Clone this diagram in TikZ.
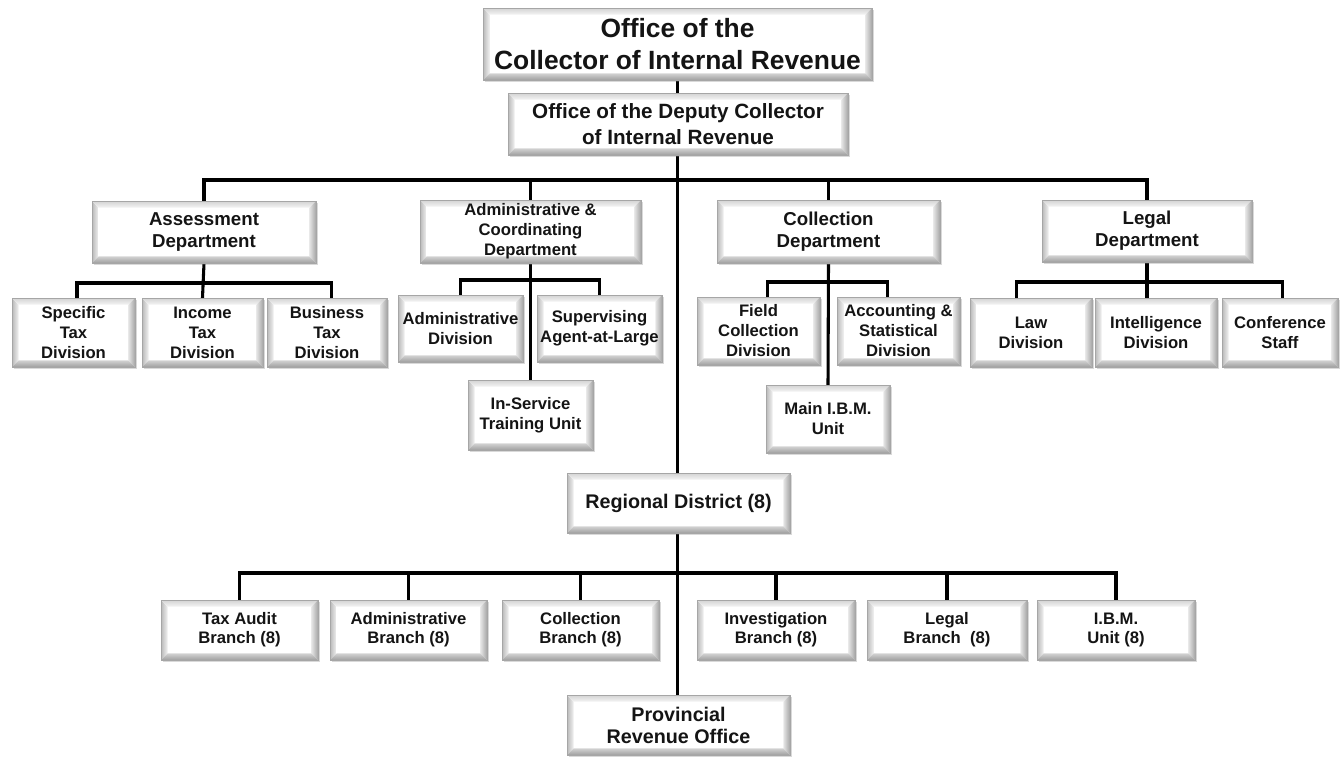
\documentclass[tikz,border=0pt]{standalone}
\usepackage{fontspec}
\setmainfont{Liberation Sans}
\usetikzlibrary{shadows,backgrounds}
\tikzset{
  bx/.style={rectangle, inner sep=1pt, align=center, fill=white, draw=gray!70, line width=0.4pt,
    text=black!92,
    drop shadow={opacity=0.3, shadow xshift=1.6pt, shadow yshift=-1.6pt},
    path picture={
      \path (path picture bounding box.south west) coordinate (q1)
            (path picture bounding box.north west) coordinate (q2)
            (path picture bounding box.north east) coordinate (q3)
            (path picture bounding box.south east) coordinate (q4);
      \shade[left color=gray!55, right color=gray!10] (q1) -- (q2) -- ([shift={(5pt,-5pt)}]q2) -- ([shift={(5pt,5pt)}]q1) -- cycle;
      \shade[top color=gray!35, bottom color=gray!8] (q2) -- (q3) -- ([shift={(-5pt,-5pt)}]q3) -- ([shift={(5pt,-5pt)}]q2) -- cycle;
      \shade[left color=gray!20, right color=gray!70] (q3) -- (q4) -- ([shift={(-5pt,5pt)}]q4) -- ([shift={(-5pt,-5pt)}]q3) -- cycle;
      \shade[top color=gray!35, bottom color=gray!75] (q4) -- (q1) -- ([shift={(5pt,5pt)}]q1) -- ([shift={(-5pt,5pt)}]q4) -- cycle;
    }},
  ttl/.style={bx, font=\fontsize{19.8pt}{24pt}\selectfont\bfseries},
  dpt/.style={bx, font=\fontsize{15.5pt}{19pt}\selectfont\bfseries},
  dept/.style={bx, font=\fontsize{14pt}{16.5pt}\selectfont\bfseries},
  small/.style={bx, font=\fontsize{12.5pt}{15pt}\selectfont\bfseries},
  brn/.style={bx, font=\fontsize{12.5pt}{14pt}\selectfont\bfseries},
  big/.style={bx, font=\fontsize{14.8pt}{16.5pt}\selectfont\bfseries},
  ln/.style={draw=black, line width=2.3pt, line cap=rect},
}
\newcommand\obox[7]{\node[#7, minimum width={(#4-#2)*0.75pt}, minimum height={(#5-#3)*0.75pt}] (#1) at ({(#2+#4)/2},{(#3+#5)/2}) {#6};}
\begin{document}
\begin{tikzpicture}[x=0.75pt,y=-0.75pt]
\useasboundingbox (0,0) rectangle (1340,757);
% boxes
\obox{top}{483}{8}{872}{80}{Office of the\\Collector of Internal Revenue}{ttl}
\obox{dep}{508}{93}{848}{155}{Office of the Deputy Collector\\of Internal Revenue}{dpt}
\obox{ass}{92}{201}{316}{263}{Assessment\\Department}{dept}
\obox{adm}{420}{200}{641}{263}{Administrative \&\\Coordinating\\Department}{small}
\obox{col}{717}{200}{940}{263}{Collection\\Department}{dept}
\obox{leg}{1042}{200}{1252}{262}{Legal\\Department}{dept}
\obox{spe}{12}{298}{135}{367}{Specific\\Tax\\Division}{small}
\obox{inc}{142}{298}{263}{367}{Income\\Tax\\Division}{small}
\obox{bus}{267}{298}{387}{367}{Business\\Tax\\Division}{small}
\obox{adv}{398}{295}{523}{362}{Administrative\\Division}{small}
\obox{sup}{537}{295}{662}{362}{Supervising\\Agent-at-Large}{small}
\obox{ins}{468}{380}{593}{450}{In-Service\\Training Unit}{small}
\obox{fld}{697}{297}{820}{365}{Field\\Collection\\Division}{small}
\obox{acc}{837}{297}{960}{365}{Accounting \&\\Statistical\\Division}{small}
\obox{ibm}{766}{385}{890}{453}{Main I.B.M.\\Unit}{small}
\obox{law}{970}{298}{1092}{367}{Law\\Division}{small}
\obox{int}{1095}{298}{1217}{367}{Intelligence\\Division}{small}
\obox{con}{1222}{298}{1338}{367}{Conference\\Staff}{small}
\obox{reg}{567}{473}{790}{533}{Regional District (8)}{big}
\obox{tab}{161}{600}{318}{660}{Tax Audit\\Branch (8)}{brn}
\obox{adb}{330}{600}{487}{660}{Administrative\\Branch (8)}{brn}
\obox{cob}{502}{600}{659}{660}{Collection\\Branch (8)}{brn}
\obox{inv}{697}{600}{855}{660}{Investigation\\Branch (8)}{brn}
\obox{lgb}{867}{600}{1027}{660}{Legal\\Branch~~(8)}{brn}
\obox{iub}{1037}{600}{1195}{660}{I.B.M.\\Unit (8)}{brn}
\obox{prov}{567}{695}{790}{755}{Provincial\\Revenue Office}{big}
% connectors
\coordinate (dbar) at (678,180);
\coordinate (abar) at (204,283);
\coordinate (cbar) at (530,280);
\coordinate (kbar) at (828,282);
\coordinate (lbar) at (1147,282);
\coordinate (bbar) at (678,573);
\begin{scope}[on background layer]
\draw[ln] (top.south) -- (top.south |- prov.north);
\draw[ln] (ass.north) |- (dbar) -| (leg.north);
\draw[ln] (adm.north) -- (adm.north |- dbar);
\draw[ln] (col.north) -- (col.north |- dbar);
\draw[ln] (ass.south) -- (inc.north);
\draw[ln] ([xshift=2.6pt]spe.north) |- (abar) -| ([xshift=3.7pt]bus.north);
\draw[ln] (adm.south) -- (ins.north);
\draw[ln] (adv.north) |- (cbar) -| (sup.north);
\draw[ln] (col.south) -- (ibm.north);
\draw[ln] ([xshift=6.4pt]fld.north) |- (kbar) -| ([xshift=-8.6pt]acc.north);
\draw[ln] (leg.south) -- (leg.south |- int.north);
\draw[ln] ([xshift=-11pt]law.north) |- (lbar) -| ([xshift=2pt]con.north);
\draw[ln] (tab.north) |- (bbar) -| (iub.north);
\draw[ln] (adb.north) -- (adb.north |- bbar);
\draw[ln] (cob.north) -- (cob.north |- bbar);
\draw[ln] (inv.north) -- (inv.north |- bbar);
\draw[ln] (lgb.north) -- (lgb.north |- bbar);
\end{scope}
\end{tikzpicture}
\end{document}
